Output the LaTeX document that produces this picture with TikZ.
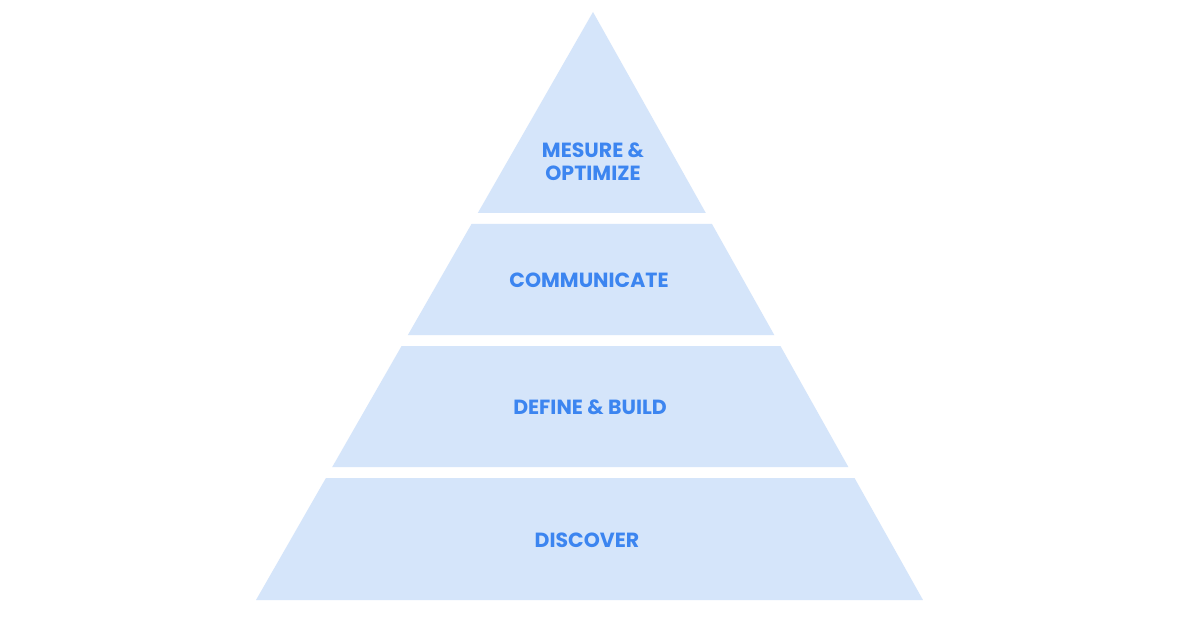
\documentclass[tikz,border=0pt]{standalone}
\usepackage{fontspec}
\setmainfont{Poppins}
\definecolor{tierfill}{RGB}{213,229,250}
\definecolor{tiertext}{RGB}{60,133,240}
\begin{document}
\begin{tikzpicture}[x=1pt,y=-1pt,
  tier/.style={fill=tierfill,draw=none},
  lbl/.style={text=tiertext,font=\fontsize{20.5}{23}\selectfont\bfseries,align=center,inner sep=0pt}]
\useasboundingbox (0,0) rectangle (1194,620);
\fill[white] (0,0) rectangle (1194,620);
% apex (593,12), base y=600 from 256 to 922
\def\sl{0.5731}
\def\sr{0.5612}
\path[tier] (593,12) -- (593+201*\sr,213) -- (593-201*\sl,213) -- cycle;
\path[tier] (593-212*\sl,224) -- (593+212*\sr,224) -- (593+323*\sr,335) -- (593-323*\sl,335) -- cycle;
\path[tier] (593-334*\sl,346) -- (593+334*\sr,346) -- (593+455*\sr,467) -- (593-455*\sl,467) -- cycle;
\path[tier] (593-466*\sl,478) -- (593+466*\sr,478) -- (593+588*\sr,600) -- (593-588*\sl,600) -- cycle;
\node[lbl] (t1) at (593,162) {MESURE \&\\OPTIMIZE};
\node[lbl] (t2) at (589,280) {COMMUNICATE};
\node[lbl] (t3) at (590,407) {DEFINE \& BUILD};
\node[lbl] (t4) at (587,540) {DISCOVER};
\end{tikzpicture}
\end{document}
